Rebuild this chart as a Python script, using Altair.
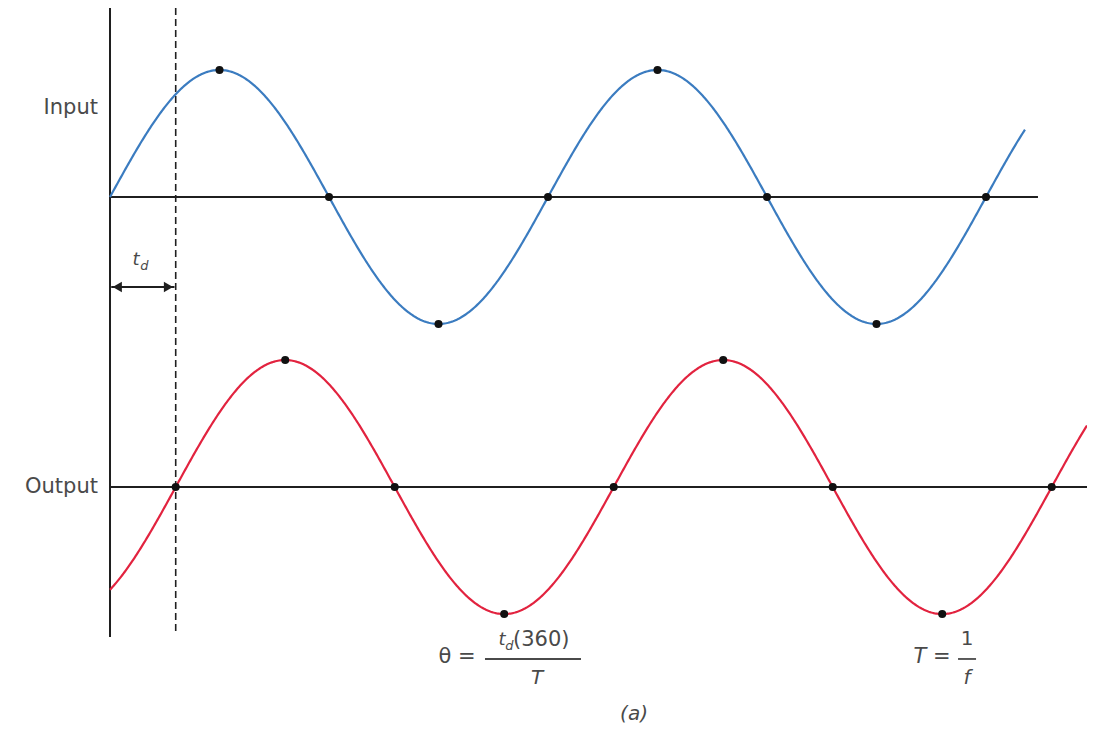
import numpy as np
import pandas as pd
import altair as alt

# ---- data (phase in degrees, amplitude in units of peak) ----
delay_deg = 54                       # t_d expressed as phase
input_end_deg = 752
output_end_deg = 803
input_offset = 1.142                 # vertical position of input trace
output_offset = -1.142               # vertical position of output trace
input_dot_deg = [90, 180, 270, 360, 450, 540, 630, 720]
output_dot_deg = [54, 144, 234, 324, 414, 504, 594, 684, 774]

BLUE = "#3b7cc0"
RED = "#e2233f"
INK = "#1f1f1f"
TXT = "#4a4a4a"
FONT = "DejaVu Sans"

xin = np.arange(0, input_end_deg + 0.5, 1.0)
xout = np.arange(0, output_end_deg + 0.5, 1.0)
df_in = pd.DataFrame({"x": xin, "y": input_offset + np.sin(np.radians(xin))})
df_out = pd.DataFrame({"x": xout, "y": output_offset + np.sin(np.radians(xout - delay_deg))})
dots = pd.DataFrame({
    "x": input_dot_deg + output_dot_deg,
    "y": [input_offset + np.sin(np.radians(d)) for d in input_dot_deg]
       + [output_offset + np.sin(np.radians(d - delay_deg)) for d in output_dot_deg],
})

X_DOM = [-83.84, 803.0]
Y_DOM = [-3.008, 2.630]
xs = alt.Scale(domain=X_DOM, nice=False, zero=False)
ys = alt.Scale(domain=Y_DOM, nice=False, zero=False)
X = lambda f="x": alt.X(f"{f}:Q", scale=xs, axis=None)
Y = lambda f="y": alt.Y(f"{f}:Q", scale=ys, axis=None)

# reference rules
rules_h = pd.DataFrame({"x": [0, 0], "x2": [762.7, X_DOM[1]], "y": [input_offset, output_offset]})
rule_h = alt.Chart(rules_h).mark_rule(color=INK, strokeWidth=2).encode(x=X(), x2="x2:Q", y=Y())

vaxis = alt.Chart(pd.DataFrame({"x": [0], "y": [Y_DOM[1]], "y2": [-2.323]})).mark_rule(
    color=INK, strokeWidth=2).encode(x=X(), y=Y(), y2="y2:Q")
dashed = alt.Chart(pd.DataFrame({"x": [delay_deg], "y": [Y_DOM[1]], "y2": [-2.291]})).mark_rule(
    color=INK, strokeWidth=1.6, strokeDash=[7, 4]).encode(x=X(), y=Y(), y2="y2:Q")

line_in = alt.Chart(df_in).mark_line(color=BLUE, strokeWidth=2.2).encode(x=X(), y=Y())
line_out = alt.Chart(df_out).mark_line(color=RED, strokeWidth=2.2).encode(x=X(), y=Y())
pts = alt.Chart(dots).mark_circle(color="#111111", opacity=1, size=65).encode(x=X(), y=Y())

# t_d arrow
arrow_y = 0.433
arrow_line = alt.Chart(pd.DataFrame({"x": [1], "x2": [delay_deg - 1], "y": [arrow_y]})).mark_rule(
    color=INK, strokeWidth=1.8).encode(x=X(), x2="x2:Q", y=Y())
heads = pd.DataFrame({"x": [6, delay_deg - 6], "y": [arrow_y, arrow_y],
                      "shape": ["triangle-left", "triangle-right"]})
arrow_heads = alt.Chart(heads).mark_point(filled=True, color=INK, opacity=1, size=110).encode(
    x=X(), y=Y(), shape=alt.Shape("shape:N", scale=None))

def txt(df, size=20, style="normal", align="center", baseline="middle"):
    return alt.Chart(pd.DataFrame(df)).mark_text(
        font=FONT, fontSize=size, fontStyle=style, color=TXT, align=align, baseline=baseline
    ).encode(x=X(), y=Y(), text="t:N")

labels = txt({"x": [-9.9, -9.9], "y": [1.843, -1.142], "t": ["Input", "Output"]}, size=21, align="right")
td_t = txt({"x": [21.4], "y": [0.646], "t": ["t"]}, size=18, style="italic")
td_d = txt({"x": [28.2], "y": [0.596], "t": ["d"]}, size=13, style="italic")

theta_eq = txt({"x": [285.2], "y": [-2.480], "t": ["θ ="]}, size=21)
num_t = txt({"x": [322.2], "y": [-2.346], "t": ["t"]}, size=18, style="italic")
num_d = txt({"x": [328.2], "y": [-2.392], "t": ["d"]}, size=13, style="italic")
num_rest = txt({"x": [331.2], "y": [-2.346], "t": ["(360)"]}, size=21, align="left")
den_T = txt({"x": [351.0], "y": [-2.646], "t": ["T"]}, size=20, style="italic")

T_eq = txt({"x": [675.6], "y": [-2.480], "t": ["T ="]}, size=21, style="italic")
one = txt({"x": [704.4], "y": [-2.339], "t": ["1"]}, size=20)
f_den = txt({"x": [704.4], "y": [-2.646], "t": ["f"]}, size=20, style="italic")
fig_a = txt({"x": [430.7], "y": [Y_DOM[0]], "t": ["(a)"]}, size=20, style="italic", baseline="bottom")

bars = alt.Chart(pd.DataFrame({"x": [308.2, 697.0], "x2": [387.1, 711.8], "y": [-2.496, -2.496]})).mark_rule(
    color=TXT, strokeWidth=1.8).encode(x=X(), x2="x2:Q", y=Y())

chart = alt.layer(
    rule_h, vaxis, dashed, line_in, line_out, pts, arrow_line, arrow_heads,
    labels, td_t, td_d, theta_eq, num_t, num_d, num_rest, den_T,
    T_eq, one, f_den, fig_a, bars,
).properties(
    width=1079, height=716, padding=0,
    autosize=alt.AutoSizeParams(type="none"),
    background="white",
).configure_view(stroke=None)

chart.save("out.html", embed_options={"renderer": "svg", "actions": False})
